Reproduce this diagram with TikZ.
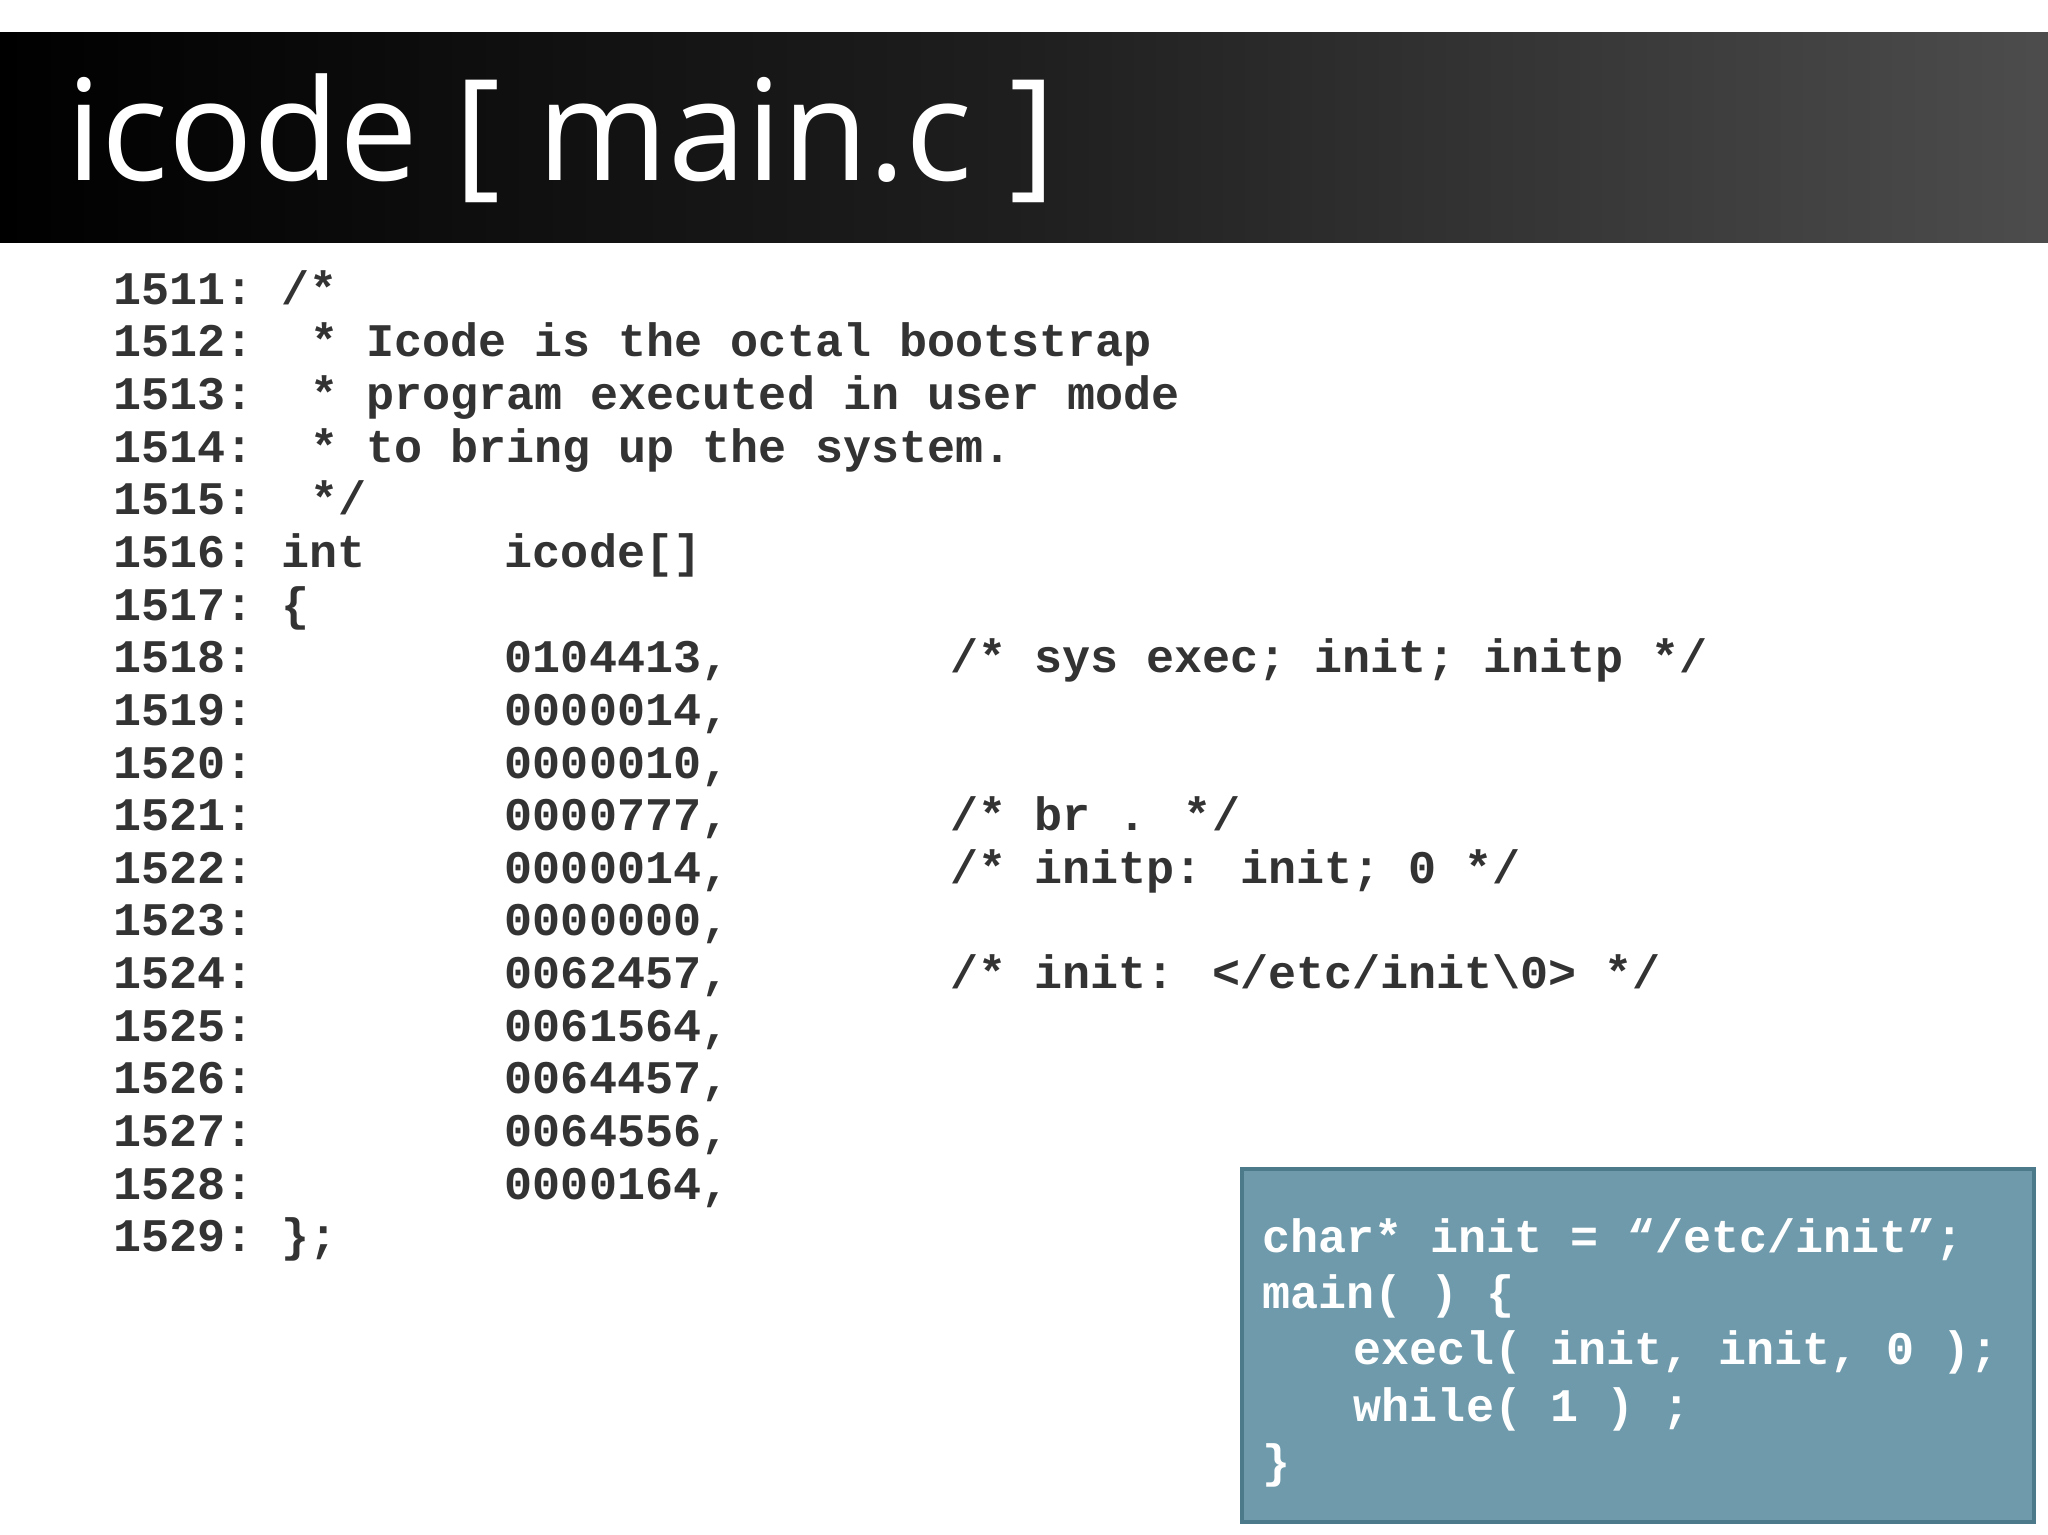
\documentclass[tikz,border=0pt]{standalone}
\usepackage{fontspec}
\setmainfont{Open Sans}
\newfontfamily\codefont{Liberation Mono}
\begin{document}
\begin{tikzpicture}[x=0.013061cm,y=-0.013061cm,
  code/.style={anchor=base west,inner sep=0pt,font=\codefont\bfseries\fontsize{13.3}{14}\selectfont,text=black!80},
  bcode/.style={code,text=white}]
\useasboundingbox (0,0) rectangle (1568,1175);
\fill[white] (0,0) rectangle (1568,1175);
\shade[left color=black,right color=black!70,middle color=black!88] (0,25) rectangle (1568,186);
\node[anchor=base west,inner sep=0pt,text=white,font=\fontsize{40}{44}\selectfont] (title) at (50,138) {icode [ main.c ]};
\foreach \n/\i in {1511/0,1512/1,1513/2,1514/3,1515/4,1516/5,1517/6,1518/7,1519/8,1520/9,1521/10,1522/11,1523/12,1524/13,1525/14,1526/15,1527/16,1528/17,1529/18}
  \node[code] (ln\n) at (86,{233+40.3*\i}) {\n:};
\newcommand\yl[1]{233+40.3*#1}
\node[code] (c0) at (215,{\yl{0}}) {/*};
\node[code] (c1) at (237,{\yl{1}}) {* Icode is the octal bootstrap};
\node[code] (c2) at (237,{\yl{2}}) {* program executed in user mode};
\node[code] (c3) at (237,{\yl{3}}) {* to bring up the system.};
\node[code] (c4) at (237,{\yl{4}}) {*/};
\node[code] (c5) at (215,{\yl{5}}) {int};
\node[code] (c5b) at (386,{\yl{5}}) {icode[]};
\node[code] (c6) at (215,{\yl{6}}) {\{};
\foreach \v/\i in {0104413/7,0000014/8,0000010/9,0000777/10,0000014/11,0000000/12,0062457/13,0061564/14,0064457/15,0064556/16,0000164/17}
  \node[code] (v\i) at (386,{233+40.3*\i}) {\v,};
\node[code] (c18) at (215,{\yl{18}}) {\};};
\node[code] (k7) at (727,{\yl{7}}) {/* sys exec; init; initp */};
\node[code] (k10) at (727,{\yl{10}}) {/* br . */};
\node[code] (k11) at (727,{\yl{11}}) {/* initp: init; 0 */};
\node[code] (k13) at (727,{\yl{13}}) {/* init: </etc/init\textbackslash 0> */};
\draw[fill={rgb,255:red,110;green,154;blue,171},draw={rgb,255:red,77;green,122;blue,138},line width=1.2pt] (951,895) rectangle (1557,1165);
\node[bcode] (b1) at (966,959) {char* init = “/etc/init”;};
\node[bcode] (b2) at (966,1002) {main( ) \{};
\node[bcode] (b3) at (1036,1045) {execl( init, init, 0 );};
\node[bcode] (b4) at (1036,1088) {while( 1 ) ;};
\node[bcode] (b5) at (966,1131) {\}};
\end{tikzpicture}
\end{document}
